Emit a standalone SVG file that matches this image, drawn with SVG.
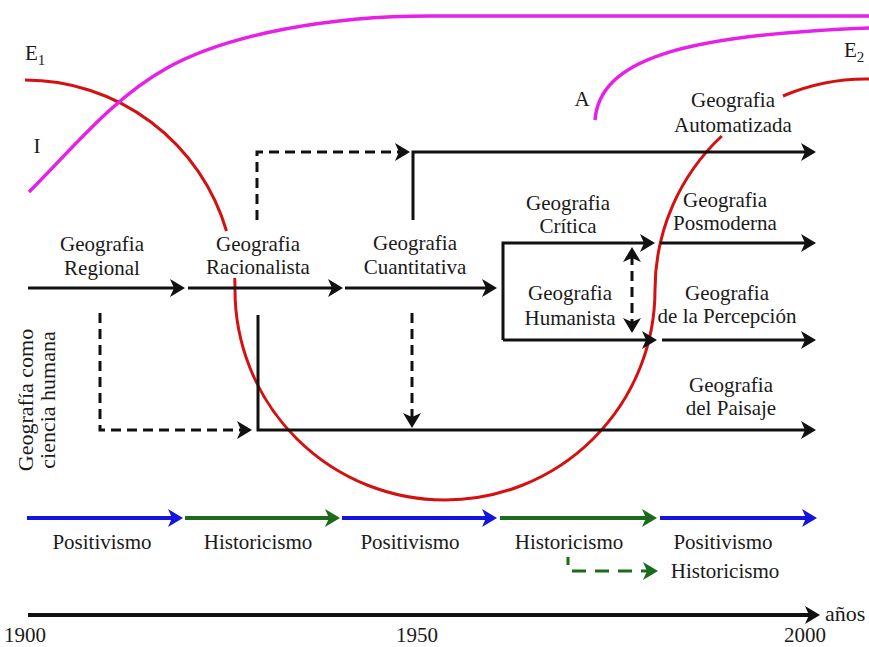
<svg xmlns="http://www.w3.org/2000/svg" width="869" height="647" viewBox="0 0 869 647" font-family="Liberation Serif, Times New Roman, serif">
<style>
text{font-size:21px;fill:#1a1a1a}
.c{text-anchor:middle}
.k{fill:none;stroke:#111;stroke-width:3}
.d{stroke-dasharray:10 6}
.b{fill:none;stroke:#1414e0;stroke-width:4}
.g{fill:none;stroke:#1c6b1c;stroke-width:4}
.red{fill:none;stroke:#d41010;stroke-width:3}
.mag{fill:none;stroke:#e620e6;stroke-width:3.5}
.sub{font-size:15px}
</style>
<defs>
<marker id="ak" markerUnits="userSpaceOnUse" markerWidth="16" markerHeight="18" refX="7" refY="9" orient="auto-start-reverse"><path d="M0,0 L15,9 L0,18 L4,9 Z" fill="#111"/></marker>
<marker id="ab" markerUnits="userSpaceOnUse" markerWidth="16" markerHeight="18" refX="7" refY="9" orient="auto"><path d="M0,0 L15,9 L0,18 L4,9 Z" fill="#1414e0"/></marker>
<marker id="ag" markerUnits="userSpaceOnUse" markerWidth="16" markerHeight="18" refX="7" refY="9" orient="auto"><path d="M0,0 L15,9 L0,18 L4,9 Z" fill="#1c6b1c"/></marker>
</defs>
<rect width="869" height="647" fill="#fff"/>

<g id="curves">
<path class="red" d="M25,80 A210,210 0 0 1 226.5,231"/>
<path class="red" d="M234.7,278 A210,210 0 0 1 235,290 A210,210 0 0 0 655,290 A211,211 0 0 1 721.8,136"/>
<path class="red" d="M783,96 A211,211 0 0 1 866,79 L869,79"/>
<path class="mag" d="M29,192 C73,148 113,98 167,68 C228,34 330,16 430,16 L869,16"/>
<path class="mag" d="M595,120 C600,60 680,35 869,28"/>
</g>

<g id="connectors">
<path class="k" d="M28,288 H177" marker-end="url(#ak)"/>
<path class="k" d="M188,288 H335" marker-end="url(#ak)"/>
<path class="k" d="M345,288 H489" marker-end="url(#ak)"/>
<path class="k d" d="M257,220 V152 H402" marker-end="url(#ak)"/>
<path class="k" d="M413,220 V152 H808" marker-end="url(#ak)"/>
<path class="k" d="M503,340 V243 H647" marker-end="url(#ak)"/>
<path class="k" d="M503,340 H649" marker-end="url(#ak)"/>
<path class="k" d="M660,243 H808" marker-end="url(#ak)"/>
<path class="k" d="M662,340 H808" marker-end="url(#ak)"/>
<path class="k d" d="M632,255 V325" marker-start="url(#ak)" marker-end="url(#ak)"/>
<path class="k d" d="M100,313 V430 H244" marker-end="url(#ak)"/>
<path class="k" d="M258,315 V430 H808" marker-end="url(#ak)"/>
<path class="k d" d="M412,313 V420" marker-end="url(#ak)"/>
<path class="b" d="M27,518 H175" marker-end="url(#ab)"/>
<path class="g" d="M185,518 H332" marker-end="url(#ag)"/>
<path class="b" d="M342,518 H489" marker-end="url(#ab)"/>
<path class="g" d="M500,518 H649" marker-end="url(#ag)"/>
<path class="b" d="M660,518 H809" marker-end="url(#ab)"/>
<g id="hist-branch">
<path class="g" style="stroke-width:3" d="M568,557 V565"/>
<path class="g" style="stroke-width:3;stroke-dasharray:14 9" d="M572,571 H650" marker-end="url(#ag)"/>
</g>
<path class="k" style="stroke-width:4" d="M28,615 H812" marker-end="url(#ak)"/>
</g>

<g id="label-E1"><text x="25" y="60">E<tspan class="sub" dy="5">1</tspan></text></g>
<g id="label-I"><text class="c" x="37" y="153">I</text></g>
<g id="label-A"><text class="c" x="582" y="106">A</text></g>
<g id="label-E2"><text x="844" y="57">E<tspan class="sub" dy="5">2</tspan></text></g>

<g id="n-regional"><text class="c" x="102" y="251">Geografia</text><text class="c" x="102" y="275">Regional</text></g>
<g id="n-racionalista"><text class="c" x="258" y="251">Geografia</text><text class="c" x="258" y="274">Racionalista</text></g>
<g id="n-cuantitativa"><text class="c" x="415" y="250">Geografia</text><text class="c" x="415" y="274">Cuantitativa</text></g>
<g id="n-critica"><text class="c" x="568" y="210">Geografia</text><text class="c" x="568" y="233">Crítica</text></g>
<g id="n-humanista"><text class="c" x="570" y="300">Geografia</text><text class="c" x="570" y="325">Humanista</text></g>
<g id="n-automatizada"><text class="c" x="733" y="107">Geografia</text><text class="c" x="733" y="132">Automatizada</text></g>
<g id="n-posmoderna"><text class="c" x="725" y="207">Geografia</text><text class="c" x="725" y="230">Posmoderna</text></g>
<g id="n-percepcion"><text class="c" x="727" y="300">Geografia</text><text class="c" x="727" y="323">de la Percepción</text></g>
<g id="n-paisaje"><text class="c" x="731" y="392">Geografia</text><text class="c" x="731" y="415">del Paisaje</text></g>
<g id="n-ciencia-humana"><text class="c" style="font-size:22px" transform="translate(33,400) rotate(-90)">Geografía como</text><text class="c" style="font-size:22px" transform="translate(55,400) rotate(-90)">ciencia humana</text></g>

<g id="n-paradigms">
<text class="c" x="102" y="549">Positivismo</text>
<text class="c" x="258" y="549">Historicismo</text>
<text class="c" x="410" y="549">Positivismo</text>
<text class="c" x="569" y="549">Historicismo</text>
<text class="c" x="723" y="549">Positivismo</text>
<text class="c" x="725" y="578">Historicismo</text>
</g>
<g id="n-axis">
<text x="825" y="621" style="font-size:22px">años</text>
<text class="c" x="25" y="642">1900</text>
<text class="c" x="417" y="642">1950</text>
<text class="c" x="805" y="642">2000</text>
</g>
</svg>
